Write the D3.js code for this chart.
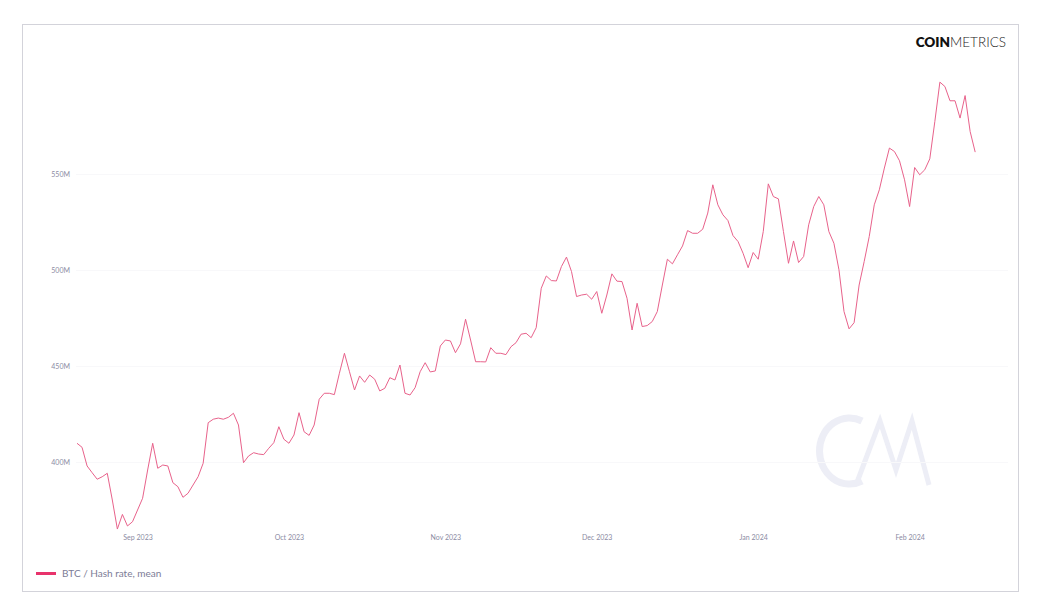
<!DOCTYPE html>
<html>
<head>
<meta charset="utf-8">
<script src="https://cdn.jsdelivr.net/npm/d3@7"></script>
<style>
  html, body { margin: 0; padding: 0; background: #ffffff; }
  svg { display: block; font-family: Lato, "Open Sans", sans-serif; }
</style>
</head>
<body>
<svg id="chart" width="1044" height="606"></svg>
<script>
// ---- data ----
const startDate = "2023-08-20";
const seriesName = "BTC / Hash rate, mean";
const hashRate = [
  409.9, 407.8, 398.1, 394.6, 391.2, 392.5, 394.3, 380.4, 365.3, 372.9,
  366.9, 369.1, 375.2, 381.3, 396.0, 409.9, 396.9, 398.6, 398.1, 389.4,
  387.3, 381.8, 383.9, 388.2, 392.5, 399.5, 420.6, 422.4, 423.0, 422.4,
  423.4, 425.5, 419.4, 399.8, 403.3, 405.0, 404.3, 404.0, 407.3, 410.2,
  418.5, 412.0, 409.9, 414.2, 425.8, 415.9, 414.0, 419.4, 432.8, 435.9,
  435.9, 435.2, 446.3, 456.7, 447.1, 437.6, 444.9, 441.6, 445.4, 443.2,
  437.1, 438.5, 444.0, 442.8, 450.6, 435.9, 435.0, 438.8, 447.1, 451.8,
  447.0, 447.5, 460.5, 463.6, 463.1, 457.0, 461.6, 474.4, 463.6, 452.3,
  452.3, 452.2, 459.6, 456.7, 456.7, 456.0, 460.1, 462.2, 466.6, 467.1,
  464.8, 470.0, 490.5, 496.9, 494.5, 494.3, 501.8, 506.7, 499.2, 486.2,
  487.0, 487.4, 484.8, 488.8, 477.5, 487.0, 498.0, 494.2, 494.0, 485.3,
  468.8, 482.7, 470.6, 471.1, 473.2, 478.4, 492.2, 505.6, 503.2, 507.9,
  512.5, 520.5, 519.1, 519.1, 521.2, 529.6, 544.3, 533.9, 528.7, 525.7,
  517.9, 514.8, 508.7, 501.2, 509.1, 505.6, 520.0, 544.8, 538.2, 537.0,
  520.0, 503.5, 515.1, 503.9, 507.0, 523.5, 533.0, 538.2, 533.9, 520.0,
  513.9, 500.1, 478.4, 469.4, 472.6, 492.2, 504.4, 517.4, 533.9, 541.7,
  553.0, 563.4, 561.6, 556.8, 546.9, 533.0, 553.3, 549.5, 552.1, 557.8,
  577.2, 597.7, 595.4, 588.0, 588.0, 579.0, 590.7, 572.0, 561.3
];
const yTicks = [400, 450, 500, 550];
const xTickDates = ["2023-09-01", "2023-10-01", "2023-11-01", "2023-12-01", "2024-01-01", "2024-02-01"];
const yDomain = [364.8, 604];

// ---- build ----
const svg = d3.select("#chart");
const parse = d3.utcParse("%Y-%m-%d");
const t0 = parse(startDate);
const data = hashRate.map((v, i) => ({ date: d3.utcDay.offset(t0, i), value: v }));

const x = d3.scaleUtc()
  .domain([data[0].date, data[data.length - 1].date])
  .range([77, 975.2]);
const y = d3.scaleLinear().domain(yDomain).range([530, 70]);

// card
svg.append("rect")
  .attr("x", 22.5).attr("y", 24.5)
  .attr("width", 996).attr("height", 567)
  .attr("fill", "#ffffff")
  .attr("stroke", "#d3d3da").attr("stroke-width", 1);

// watermark
const wm = svg.append("g").attr("fill", "none").attr("stroke", "#edeef6");
wm.append("path").attr("stroke-width", 7)
  .attr("d", "M862,421 A30,33 0 1,0 862,481");
wm.append("path").attr("stroke-width", 5).attr("stroke-linejoin", "miter")
  .attr("d", "M856,485 L880,421 L896,470 L912,421 L929,485");

// gridlines
svg.append("g").selectAll("line").data(yTicks).join("line")
  .attr("x1", 76).attr("x2", 1008)
  .attr("y1", d => Math.round(y(d)) + 0.5).attr("y2", d => Math.round(y(d)) + 0.5)
  .attr("stroke", "#f8f8fa").attr("stroke-width", 1);

// y axis labels
const yAxis = d3.axisLeft(y).tickValues(yTicks).tickSize(0).tickPadding(0)
  .tickFormat(d => d + "M");
svg.append("g").attr("transform", "translate(70,0)").call(yAxis)
  .call(g => g.select(".domain").remove())
  .call(g => g.selectAll("text").attr("fill", "#8b8ba3").attr("font-size", 7)
    .attr("font-family", "Lato, sans-serif"));

// x axis labels
const xAxis = d3.axisBottom(x).tickValues(xTickDates.map(parse)).tickSize(0).tickPadding(0)
  .tickFormat(d3.utcFormat("%b %Y"));
svg.append("g").attr("transform", "translate(0,535)").call(xAxis)
  .call(g => g.select(".domain").remove())
  .call(g => g.selectAll("text").attr("fill", "#8b8ba3").attr("font-size", 7)
    .attr("font-family", "Lato, sans-serif"));

// line
const line = d3.line().x(d => x(d.date)).y(d => y(d.value));
svg.append("path").datum(data)
  .attr("d", line)
  .attr("fill", "none")
  .attr("stroke", "#e8628b")
  .attr("stroke-width", 1)
  .attr("stroke-linejoin", "round");

// legend
svg.append("line").attr("x1", 36).attr("x2", 56).attr("y1", 573.5).attr("y2", 573.5)
  .attr("stroke", "#e8336c").attr("stroke-width", 3);
svg.append("text").attr("x", 62).attr("y", 577).text(seriesName)
  .attr("fill", "#7c7c96").attr("font-size", 10).attr("font-family", "Lato, sans-serif");

// logo
const logo = svg.append("text").attr("x", 1006).attr("y", 47).attr("text-anchor", "end")
  .attr("font-size", 13.5).attr("font-family", "Lato, sans-serif").attr("fill", "#111");
logo.append("tspan").attr("font-weight", 800).text("COIN");
logo.append("tspan").attr("font-weight", 300).attr("fill", "#222").text("METRICS");
</script>
</body>
</html>
